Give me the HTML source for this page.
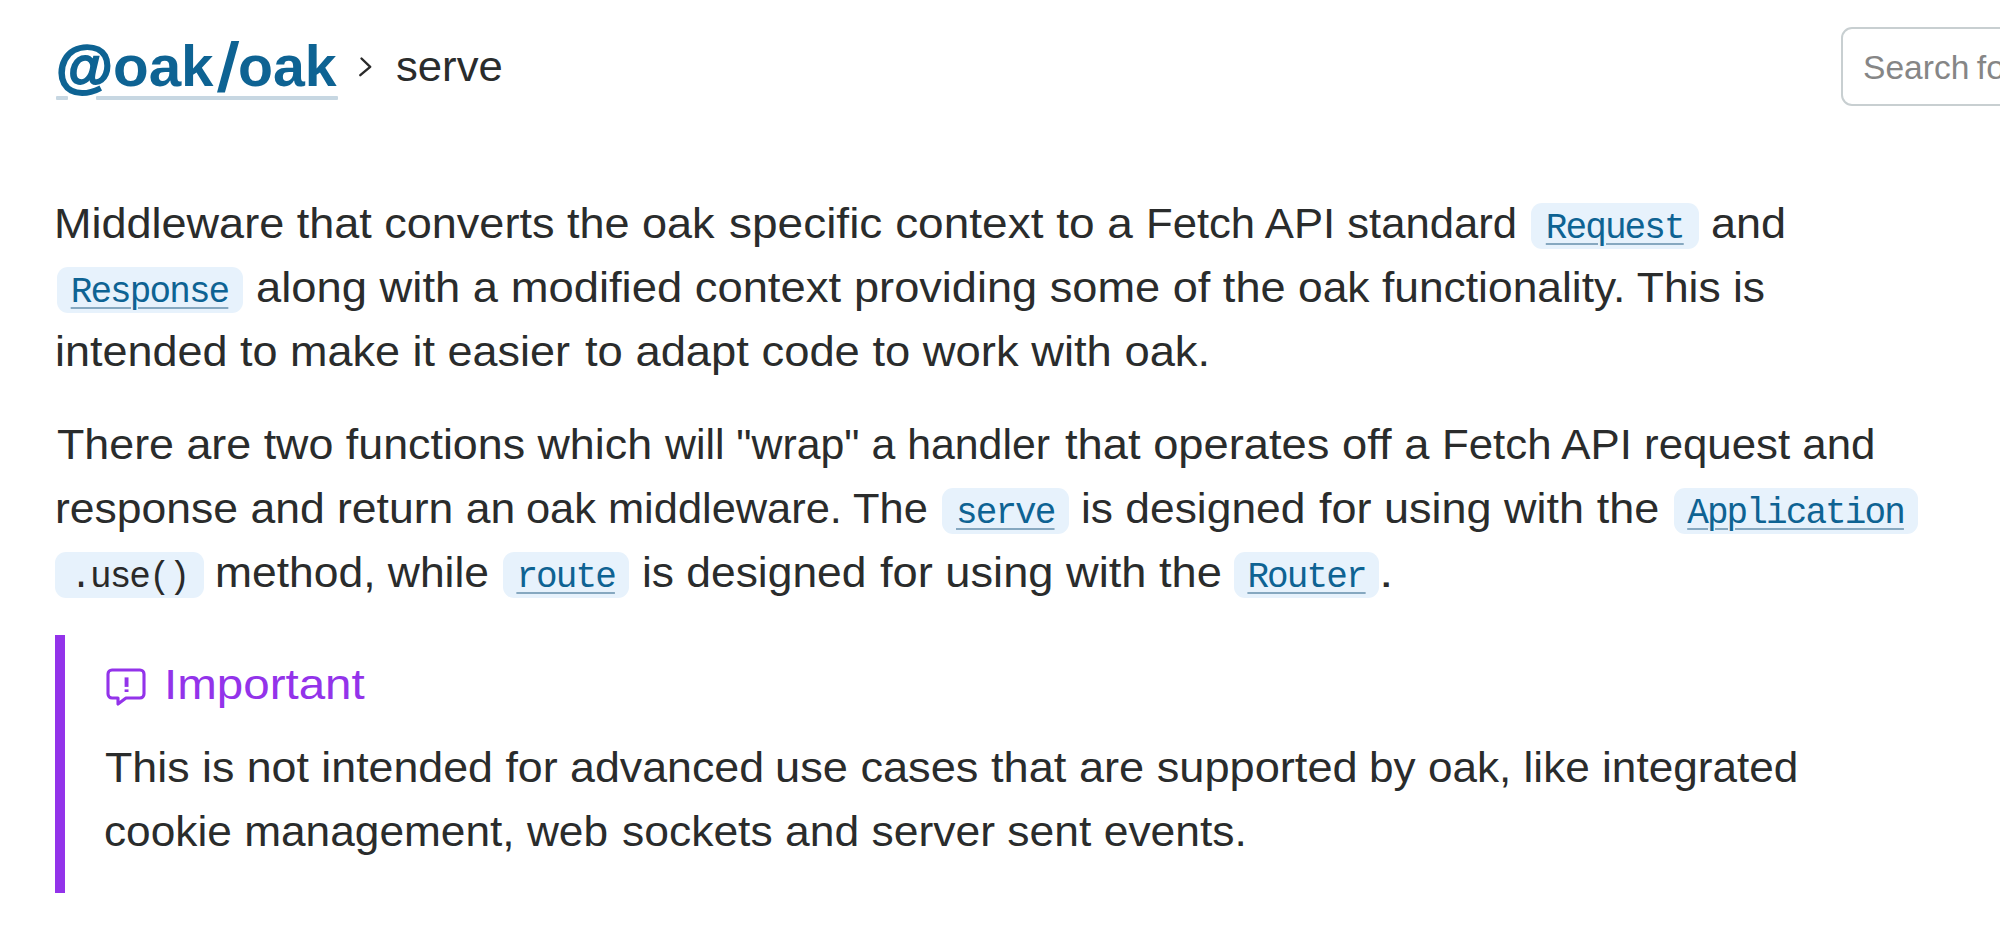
<!DOCTYPE html>
<html lang="en">
<head>
<meta charset="utf-8">
<title>serve - @oak/oak - JSR</title>
<style>
html,body{margin:0;padding:0;background:#fff;}
body{width:2000px;height:929px;overflow:hidden;position:relative;font-family:"Liberation Sans",sans-serif;}
.t{position:absolute;white-space:pre;line-height:1;transform-origin:0 0;}
.mono{position:absolute;white-space:pre;line-height:1;font-family:"Liberation Mono",monospace;font-size:36px;letter-spacing:-1.9px;color:#2a2a2a;}
.mono.link{color:#0e6393;text-decoration:underline;text-decoration-color:#86a8c0;text-decoration-thickness:2px;text-underline-offset:5px;}
.pill{position:absolute;background:#e7f2fc;border-radius:11px;}
.hdr-ul{position:absolute;top:96px;height:3.5px;background:#c7d7e2;border-radius:1px;}
.search{position:absolute;left:1841.2px;top:26.6px;width:200px;height:75.4px;border:2.4px solid #c8cfd1;border-radius:11px;background:#fff;}
.bar{position:absolute;left:55px;top:635px;width:9.5px;height:258px;background:#9333ea;}
svg{position:absolute;overflow:visible;}
</style>
</head>
<body>
<div class="search"></div>
<div class="hdr-ul" style="left:55.5px;width:12px"></div><div class="hdr-ul" style="left:96px;width:242px"></div>
<svg style="left:0;top:0" width="2000" height="929" viewBox="0 0 2000 929">
  <polygon points="231.3,41 239.2,41 224.9,92.5 217,92.5" fill="#0e6393"/>
  <polyline points="361.5,58.5 370.2,66.8 360.3,75.2" fill="none" stroke="#2a2a2a" stroke-width="2.4" stroke-linecap="round" stroke-linejoin="round"/>
</svg>
<div class="bar"></div>
<svg style="left:102px;top:662px" width="48" height="48" viewBox="0 0 24 24" fill="none" stroke="#9333ea" stroke-width="1.55" stroke-linecap="round" stroke-linejoin="round">
  <path d="M5 4h14a2 2 0 0 1 2 2v10a2 2 0 0 1 -2 2h-7l-4 3v-3h-3a2 2 0 0 1 -2 -2v-10a2 2 0 0 1 2 -2z"/>
  <rect x="11.3" y="7.7" width="1.95" height="4.75" fill="#9333ea" stroke="none"/>
  <rect x="11.3" y="13.7" width="1.95" height="1.3" fill="#9333ea" stroke="none"/>
</svg>
<div class="pill" style="left:1530.5px;top:202.5px;width:168.5px;height:46.5px"></div>
<div class="mono link" style="left:1545.80px;top:211.00px">Request</div>
<div class="pill" style="left:56.5px;top:266.5px;width:186.0px;height:46.5px"></div>
<div class="mono link" style="left:70.70px;top:275.00px">Response</div>
<div class="pill" style="left:941.5px;top:487.5px;width:127.5px;height:46.5px"></div>
<div class="mono link" style="left:956.00px;top:496.00px">serve</div>
<div class="pill" style="left:1673.5px;top:487.5px;width:244.1px;height:46.5px"></div>
<div class="mono link" style="left:1687.20px;top:496.00px">Application</div>
<div class="pill" style="left:55.0px;top:551.5px;width:148.7px;height:46.5px"></div>
<div class="mono" style="left:70.25px;top:560.00px">.use()</div>
<div class="pill" style="left:502.5px;top:551.5px;width:126.2px;height:46.5px"></div>
<div class="mono link" style="left:516.38px;top:560.00px">route</div>
<div class="pill" style="left:1233.9px;top:551.5px;width:145.2px;height:46.5px"></div>
<div class="mono link" style="left:1247.40px;top:560.00px">Router</div>
<div class="t" style="left:56.43px;top:37.50px;font-size:57px;color:#0e6393;font-weight:700;transform:scaleX(1.0245);"><span style="-webkit-text-stroke:1.8px #0e6393">@</span>oak</div>
<div class="t" style="left:237.99px;top:37.50px;font-size:57px;color:#0e6393;font-weight:700;transform:scaleX(1.0050);">oak</div>
<div class="t" style="left:396.16px;top:46.00px;font-size:42px;color:#2a2c2c;transform:scaleX(1.0394);">serve</div>
<div class="t" style="left:54.28px;top:203.00px;font-size:42px;color:#2a2c2c;transform:scaleX(1.0718);">Middleware that converts the oak</div>
<div class="t" style="left:729.31px;top:203.00px;font-size:42px;color:#2a2c2c;transform:scaleX(1.0950);">specific context to a</div>
<div class="t" style="left:1146.48px;top:203.00px;font-size:42px;color:#2a2c2c;transform:scaleX(1.0388);">Fetch API standard</div>
<div class="t" style="left:1711.43px;top:203.00px;font-size:42px;color:#2a2c2c;transform:scaleX(1.0717);">and</div>
<div class="t" style="left:255.67px;top:267.00px;font-size:42px;color:#2a2c2c;transform:scaleX(1.0800);">along with a modified context</div>
<div class="t" style="left:853.85px;top:267.00px;font-size:42px;color:#2a2c2c;transform:scaleX(1.0748);">providing some of the</div>
<div class="t" style="left:1297.94px;top:267.00px;font-size:42px;color:#2a2c2c;transform:scaleX(1.0566);">oak functionality. This is</div>
<div class="t" style="left:55.11px;top:331.00px;font-size:42px;color:#2a2c2c;transform:scaleX(1.0705);">intended to make it easier</div>
<div class="t" style="left:585.00px;top:331.00px;font-size:42px;color:#2a2c2c;transform:scaleX(1.0797);">to adapt code to work with oak.</div>
<div class="t" style="left:56.50px;top:424.00px;font-size:42px;color:#2a2c2c;transform:scaleX(1.0665);">There are two functions which</div>
<div class="t" style="left:665.02px;top:424.00px;font-size:42px;color:#2a2c2c;transform:scaleX(1.0194);">will "wrap" a handler</div>
<div class="t" style="left:1065.00px;top:424.00px;font-size:42px;color:#2a2c2c;transform:scaleX(1.0785);">that operates off a</div>
<div class="t" style="left:1441.87px;top:424.00px;font-size:42px;color:#2a2c2c;transform:scaleX(1.0428);">Fetch API request and</div>
<div class="t" style="left:55.38px;top:488.00px;font-size:42px;color:#2a2c2c;transform:scaleX(1.0595);">response and return an</div>
<div class="t" style="left:525.97px;top:488.00px;font-size:42px;color:#2a2c2c;transform:scaleX(1.0328);">oak middleware. The</div>
<div class="t" style="left:1081.09px;top:488.00px;font-size:42px;color:#2a2c2c;transform:scaleX(1.0561);">is designed</div>
<div class="t" style="left:1319.00px;top:488.00px;font-size:42px;color:#2a2c2c;transform:scaleX(1.0715);">for using with the</div>
<div class="t" style="left:214.88px;top:552.00px;font-size:42px;color:#2a2c2c;transform:scaleX(1.0576);">method, while</div>
<div class="t" style="left:641.64px;top:552.00px;font-size:42px;color:#2a2c2c;transform:scaleX(1.0561);">is designed</div>
<div class="t" style="left:879.55px;top:552.00px;font-size:42px;color:#2a2c2c;transform:scaleX(1.0766);">for using with the</div>
<div class="t" style="left:1378.88px;top:552.00px;font-size:42px;color:#2a2c2c;transform:scaleX(1.2400);">.</div>
<div class="t" style="left:163.61px;top:663.50px;font-size:42px;color:#9333ea;transform:scaleX(1.1314);">Important</div>
<div class="t" style="left:105.40px;top:747.00px;font-size:42px;color:#2a2c2c;transform:scaleX(1.0653);">This is not intended for advanced</div>
<div class="t" style="left:774.85px;top:747.00px;font-size:42px;color:#2a2c2c;transform:scaleX(1.0757);">use cases that are supported</div>
<div class="t" style="left:1368.90px;top:747.00px;font-size:42px;color:#2a2c2c;transform:scaleX(1.0509);">by oak, like integrated</div>
<div class="t" style="left:104.35px;top:811.00px;font-size:42px;color:#2a2c2c;transform:scaleX(1.0532);">cookie management, web</div>
<div class="t" style="left:621.94px;top:811.00px;font-size:42px;color:#2a2c2c;transform:scaleX(1.0581);">sockets and server sent events.</div>
<div class="t" style="left:1862.51px;top:49.60px;font-size:34px;color:#868686;transform:scaleX(0.9874);">Search</div>
<div class="t" style="left:1976.80px;top:49.60px;font-size:34px;color:#868686;">fo</div>
</body>
</html>
